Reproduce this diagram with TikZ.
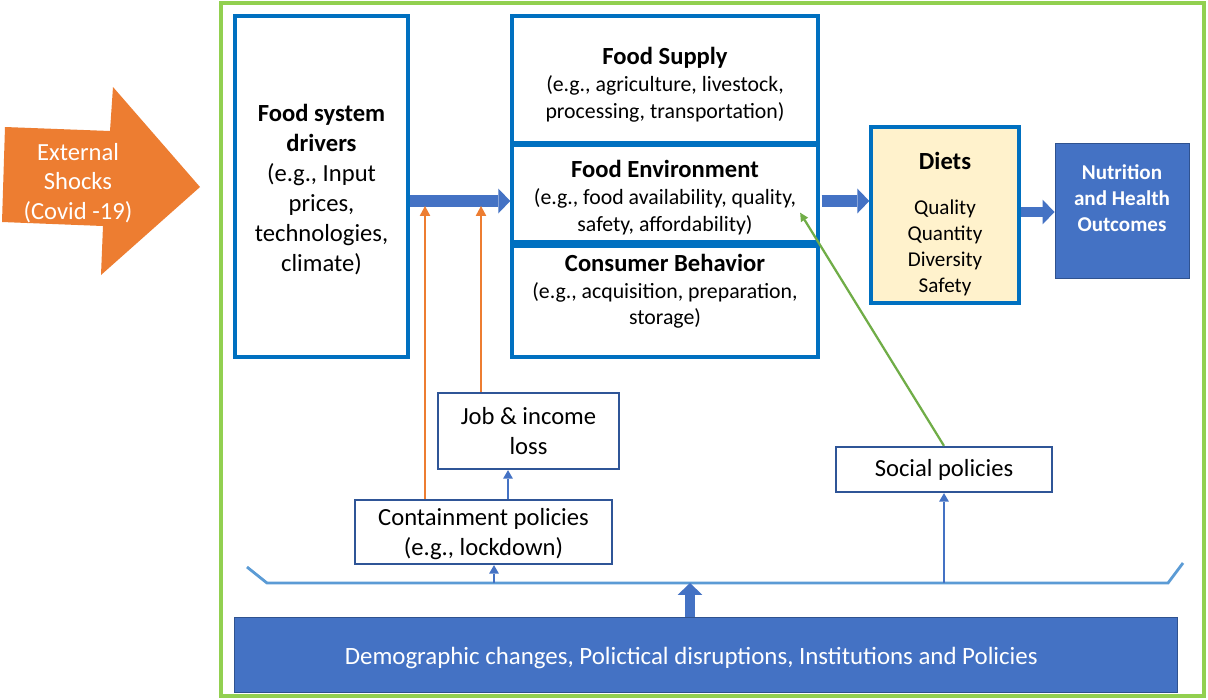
\documentclass[tikz,border=0pt]{standalone}
\usepackage{fontspec}
\setmainfont{Carlito}
\usetikzlibrary{positioning, arrows.meta, calc}
\definecolor{framegreen}{HTML}{92D050}
\definecolor{shockorange}{HTML}{ED7D31}
\definecolor{boxblue}{HTML}{0070C0}
\definecolor{fillblue}{HTML}{4472C4}
\definecolor{edgeblue}{HTML}{2F528F}
\definecolor{darkblue}{HTML}{2F5597}
\definecolor{lineblue}{HTML}{5B9BD5}
\definecolor{dietfill}{HTML}{FFF2CC}
\definecolor{policygreen}{HTML}{70AD47}
\newcommand{\titlefont}{\fontsize{17.5pt}{21pt}\selectfont\bfseries}

\begin{document}
\begin{tikzpicture}[x=0.025cm, y=-0.025cm,
    bigfont/.style={font=\fontsize{17.5pt}{21.3pt}\selectfont},
    midfont/.style={font=\fontsize{15.5pt}{19.1pt}\selectfont},
    bigbox/.style={rectangle, draw=boxblue, line width=2.4pt, align=center, inner sep=0pt},
    smallbox/.style={rectangle, draw=darkblue, line width=1.6pt, fill=white, align=center,
                     inner sep=0pt, bigfont},
    solidbox/.style={rectangle, draw=edgeblue, line width=0.7pt, fill=fillblue, text=white,
                     align=center, inner sep=0pt},
    fatarrow/.style={draw=fillblue, line width=8.5pt, -{Triangle[length=8.5pt, width=17.7pt, line width=0pt]}},
    thinarrow/.style={draw=fillblue, line width=1.5pt, -{Triangle[length=6pt, width=7pt, line width=0pt]}},
    shockline/.style={draw=shockorange, line width=2pt, -{Triangle[length=7pt, width=7.5pt, line width=0pt]}},
    greenline/.style={draw=policygreen, line width=1.6pt, -{Triangle[length=6pt, width=6pt, line width=0pt]}},
    bracket/.style={draw=lineblue, line width=2pt}
  ]
    \fill[white] (0,0) rectangle (1208,699);
    \useasboundingbox (0,0) rectangle (1208,699);

    % outer frame and the shock arrow
    \draw[framegreen, line width=2.2pt] (221,3) rectangle (1204,696);
    \fill[shockorange] (5,127) -- (110,131) -- (113,87) -- (200,187) -- (101,275)
                       -- (103,226) -- (2,222) -- cycle;
    \node[text=white, align=center, font=\fontsize{17.5pt}{21pt}\selectfont] (shocks) at (78,183)
          {External\\Shocks\\(Covid -19)};

    % food system
    \node[bigbox, bigfont, minimum width=4.325cm, minimum height=8.525cm, text height=123pt] (drivers) at (321.5,186.5)
          {\textbf{Food system}\\\textbf{drivers}\\(e.g., Input\\prices,\\technologies,\\climate)};
    \node[bigbox, midfont, minimum width=7.65cm, minimum height=3.175cm, text height=58.3pt] (supply) at (665,79.5)
          {{\titlefont Food Supply}\\(e.g., agriculture, livestock,\\processing, transportation)};
    \node[bigbox, midfont, minimum width=7.65cm, minimum height=2.425cm, text height=56pt] (foodenv) at (665,193.5)
          {{\titlefont Food Environment}\\(e.g., food availability, quality,\\safety, affordability)};
    \node[bigbox, midfont, minimum width=7.65cm, minimum height=2.775cm, text depth=0.6cm] (consumer) at (665,301.5)
          {{\titlefont Consumer Behavior}\\(e.g., acquisition, preparation,\\storage)};
    \node[bigbox, fill=dietfill, font=\fontsize{15pt}{18.4pt}\selectfont,
          minimum width=3.7cm, minimum height=4.4cm, text height=112pt] (diets) at (945,215)
          {{\titlefont Diets}\\[13.5pt]Quality\\Quantity\\Diversity\\Safety};
    \node[solidbox, font=\fontsize{15pt}{18.4pt}\selectfont\bfseries,
          minimum width=3.35cm, minimum height=3.35cm, text depth=0.65cm] (outcomes) at (1122,211)
          {Nutrition\\and Health\\Outcomes};

    % covid pathways
    \node[smallbox, minimum width=4.525cm, minimum height=1.9cm] (jobloss) at (528.5,431)
          {Job \& income\\loss};
    \node[smallbox, minimum width=6.425cm, minimum height=1.6cm, text height=37pt] (containment) at (483.5,532)
          {Containment policies\\(e.g., lockdown)};
    \node[smallbox, minimum width=5.4cm, minimum height=1.125cm] (social) at (944,469.5)
          {Social policies};
    \node[solidbox, font=\fontsize{17.7pt}{21.3pt}\selectfont, minimum width=23.55cm, minimum height=1.875cm,
          text height=17pt] (demog) at (706,654.5)
          {Demographic changes, Polictical disruptions, Institutions and Policies\hspace*{21pt}};

    \coordinate (rowA) at (0,201);
    \coordinate (rowB) at (0,212);
    \coordinate (hitA) at (425,206);
    \coordinate (hitB) at (481,206);
    \coordinate (brL) at (267,583);
    \coordinate (brR) at (1168,583);
    \coordinate (tickL) at (247,567);
    \coordinate (tickR) at (1183,563);

    \draw[fatarrow] (drivers.east |- rowA) -- (foodenv.west |- rowA);
    \draw[fatarrow] ([xshift=0.05cm]foodenv.east |- rowA) -- (diets.west |- rowA);
    \draw[fatarrow, line width=7pt] (diets.east |- rowB) -- (outcomes.west |- rowB);

    \draw[shockline] (containment.north -| hitA) -- (hitA);
    \draw[shockline] (jobloss.north -| hitB) -- (hitB);
    \draw[thinarrow] ([xshift=0.6125cm]containment.north) -- ([xshift=0.6125cm]containment.north |- jobloss.south);
    \draw[greenline] (social.north) -- ([xshift=-0.49cm, yshift=0.775cm]foodenv.south east);

    \draw[bracket] (tickL) -- (brL) -- (brR) -- (tickR);
    \draw[thinarrow] ([xshift=0.2625cm]containment.south |- brL) -- ([xshift=0.2625cm]containment.south);
    \draw[thinarrow] (social.south |- brL) -- (social.south);
    \draw[fatarrow, line width=7.5pt] ([xshift=-0.4cm]demog.north) -- ([xshift=-0.4cm]demog.north |- brL);
  \end{tikzpicture}
\end{document}
